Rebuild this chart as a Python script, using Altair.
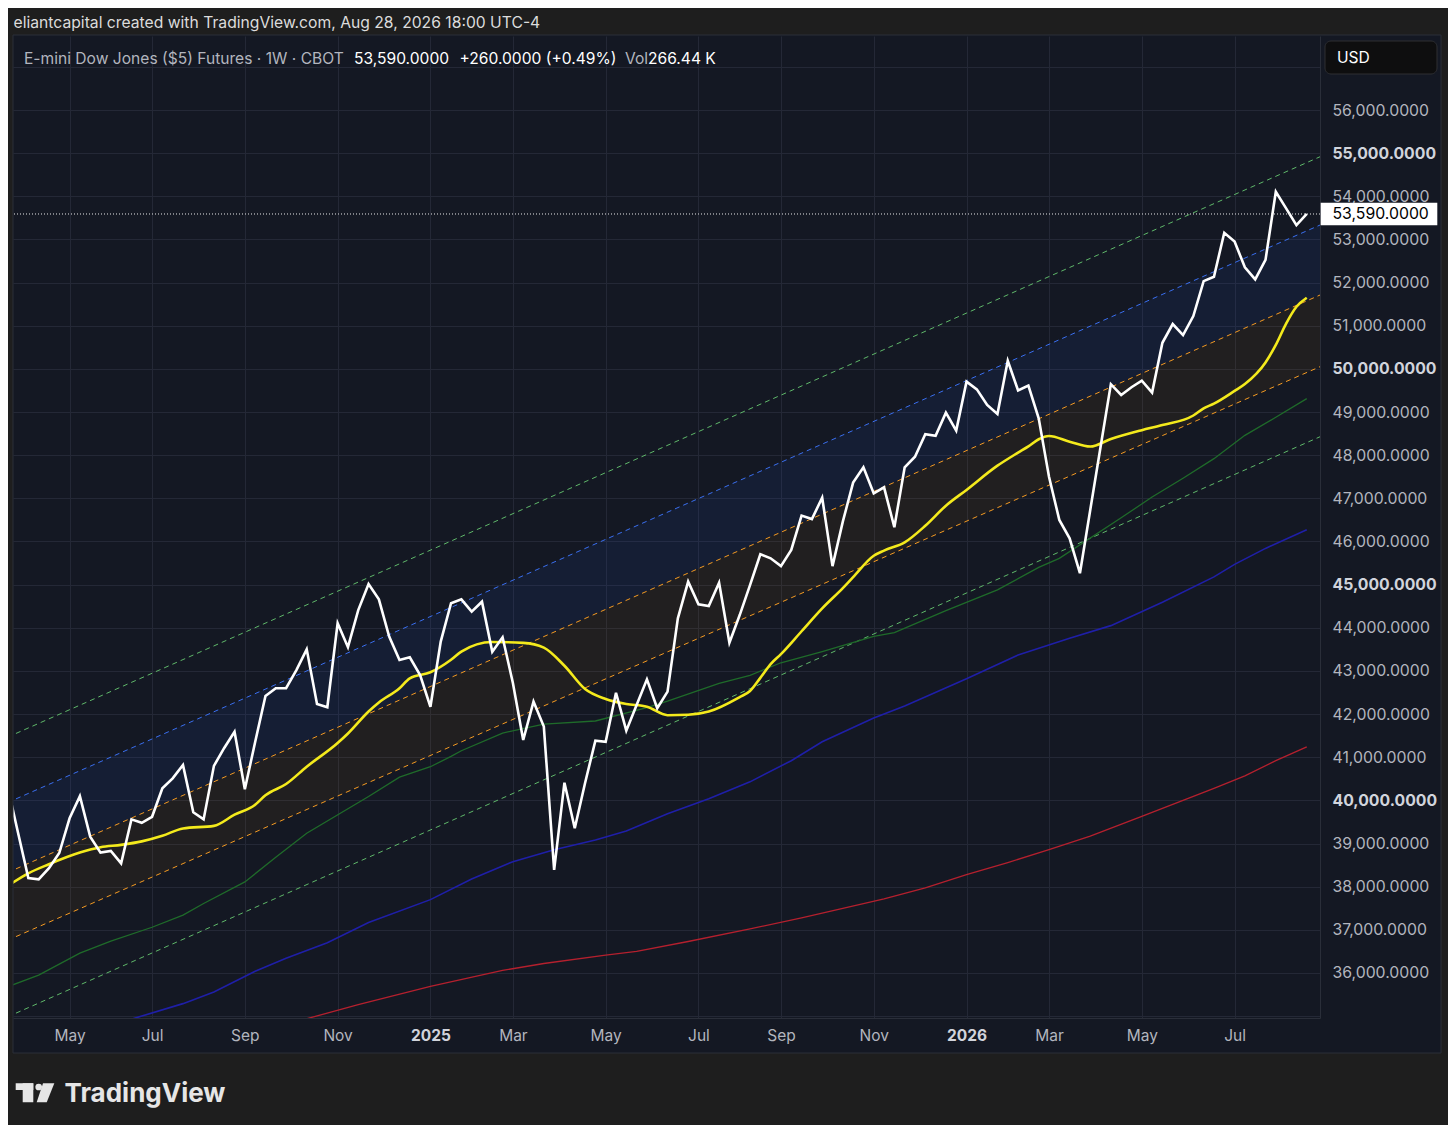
import altair as alt
import pandas as pd

# ---------------- data ----------------
week_dates = pd.date_range("2024-03-25", periods=127, freq="7D")

price = [
    40310, 39250, 38200, 38170, 38430, 38780, 39585, 40100, 39160, 38790,
    38830, 38540, 39560, 39480, 39620, 40280, 40510, 40820, 39725, 39560,
    40800, 41215, 41590, 40260, 41355, 42420, 42600, 42600, 43020, 43500,
    42235, 42160, 44105, 43550, 44410, 45015, 44660, 43795, 43255, 43315,
    42905, 42170, 43680, 44570, 44660, 44375, 44605, 43445, 43780, 42720,
    41400, 42290, 41710, 38390, 40410, 39355, 40405, 41385, 41360, 42495,
    41615, 42210, 42805, 42135, 42520, 44220, 45070, 44545, 44505, 45045,
    43655, 44295, 44990, 45705, 45610, 45430, 45805, 46600, 46520, 47015,
    45430, 46460, 47365, 47720, 47115, 47255, 46330, 47720, 47965, 48485,
    48450, 48985, 48570, 49705, 49525, 49165, 48955, 50190, 49500, 49615,
    48855, 47500, 46500, 46075, 45265, 46730, 48190, 49645, 49395, 49575,
    49725, 49450, 50605, 51040, 50785, 51225, 52035, 52135, 53155, 52950,
    52355, 52075, 52525, 54105, 53720, 53330, 53590,
]

yellow_idx = [0, 2, 4, 7, 9, 11, 13, 15, 17, 20, 22, 24, 25, 27, 29, 32, 33, 35, 36, 38,
              39, 41, 43, 44, 47, 50, 52, 54, 56, 58, 60, 62, 64, 66, 68, 71, 72, 73, 74, 75,
              77, 79, 81, 82, 84, 85, 87, 89, 91, 93, 96, 98, 99, 100, 101, 103, 105, 107, 110, 112,
              115, 116, 117, 119, 120, 122, 123, 124, 125, 126]
yellow_val = [38020, 38310, 38520, 38790, 38915, 38970, 39050, 39180, 39350, 39410,
              39670, 39900, 40120, 40380, 40780, 41330, 41550, 42060, 42270, 42600,
              42830, 42970, 43260, 43450, 43670, 43650, 43540, 43120, 42580, 42350,
              42234, 42170, 41975, 41985, 42060, 42395, 42535, 42840, 43160, 43390,
              43920, 44450, 44920, 45175, 45670, 45790, 45980, 46365, 46830, 47195,
              47757, 48060, 48205, 48370, 48445, 48313, 48200, 48375, 48580, 48700,
              48920, 49087, 49195, 49490, 49650, 50150, 50555, 51050, 51440, 51650]

green_idx = [0, 3, 7, 10, 14, 17, 19, 23, 26, 29, 35, 38, 41, 43, 44, 48, 52, 57, 62, 64,
             69, 72, 75, 79, 84, 86, 91, 96, 100, 102, 108, 111, 114, 117, 120, 123, 126]
green_val = [35680, 35950, 36460, 36740, 37060, 37340, 37610, 38110, 38680, 39240,
             40090, 40540, 40780, 41020, 41150, 41560, 41770, 41840, 42150, 42300,
             42710, 42900, 43190, 43450, 43800, 43890, 44400, 44880, 45400, 45610,
             46550, 47030, 47465, 47920, 48460, 48880, 49310]

navy_idx = [12, 17, 20, 24, 27, 31, 35, 41, 45, 49, 53, 57, 60, 64, 68, 72, 76, 79, 84, 87,
            93, 98, 103, 107, 112, 117, 119, 122, 126]
navy_val = [34930, 35290, 35560, 36040, 36340, 36700, 37170, 37700, 38180, 38580,
            38855, 39080, 39290, 39690, 40040, 40430, 40920, 41360, 41910, 42190,
            42820, 43370, 43760, 44050, 44590, 45180, 45470, 45840, 46270]

red_idx = [29, 34, 41, 48, 52, 58, 61, 66, 72, 77, 85, 89, 93, 97, 101, 105, 110, 114, 117, 120,
           123, 126]
red_val = [34940, 35265, 35690, 36060, 36220, 36415, 36500, 36730, 37020, 37280,
           37720, 37970, 38280, 38560, 38860, 39170, 39630, 40000, 40280, 40570,
           40920, 41240]

# parallel channel (drawing) end points
chan_dates = ["2024-03-25", "2026-09-07"]
chan_green_top = [41467, 54992]
chan_blue = [39951, 53409]
chan_orange_up = [38329, 51787]
chan_orange_lo = [36760, 50125]
chan_green_lo = [34985, 48503]

x_tick_dates = ["2024-05-06", "2024-07-01", "2024-09-02", "2024-11-04", "2025-01-06",
                "2025-03-03", "2025-05-05", "2025-07-07", "2025-09-01", "2025-11-03",
                "2026-01-05", "2026-03-02", "2026-05-04", "2026-07-06"]
y_ticks = [35000, 36000, 37000, 38000, 39000, 40000, 41000, 42000, 43000, 44000, 45000,
           46000, 47000, 48000, 49000, 50000, 51000, 52000, 53000, 54000, 55000, 56000, 57000]

title_text = "eliantcapital created with TradingView.com, Aug 28, 2026 18:00 UTC-4"
symbol_text = "E-mini Dow Jones ($5) Futures · 1W · CBOT"
last_text = "53,590.0000"
change_text = "+260.0000 (+0.49%)"
vol_text = "266.44 K"

# ---------------- frames ----------------
df_price = pd.DataFrame({"date": week_dates, "v": price})


def ma_frame(idx, vals):
    return pd.DataFrame({"date": week_dates[idx], "v": vals})


df_yellow = ma_frame(yellow_idx, yellow_val)
df_green = ma_frame(green_idx, green_val)
df_navy = ma_frame(navy_idx, navy_val)
df_red = ma_frame(red_idx, red_val)
df_chan = pd.DataFrame({
    "date": pd.to_datetime(chan_dates),
    "gt": chan_green_top, "b": chan_blue, "ou": chan_orange_up,
    "ol": chan_orange_lo, "gl": chan_green_lo,
})
df_last = pd.DataFrame({"v": [price[-1]]})
one = pd.DataFrame({"a": [0]})

# ---------------- scales / axes ----------------
FONT = "Inter"
BG = "#141823"
GRID = "#242836"
LINE = "#2a2e39"
AXFS = 15.8

x_vals = [alt.DateTime(year=int(d[:4]), month=int(d[5:7]), date=int(d[8:])) for d in x_tick_dates]
xscale = alt.Scale(domain=["2024-03-28T14:00:00", "2026-09-02T00:00:00"])
xaxis = alt.Axis(
    values=x_vals,
    labelExpr="month(datum.value)==0 ? timeFormat(datum.value,'%Y') : timeFormat(datum.value,'%b')",
    title=None, ticks=False, grid=True, gridColor=GRID, domainColor=LINE,
    labelFontSize=15.5, labelFont=FONT, labelPadding=10,
    labelColor={"condition": {"test": "month(datum.value)==0", "value": "#d1d4dc"}, "value": "#b2b5be"},
    labelFontWeight={"condition": {"test": "month(datum.value)==0", "value": "bold"}, "value": "normal"},
    labelOverlap=False, labelFlush=False,
)
yscale = alt.Scale(domain=[34957, 57715], nice=False, zero=False)
yaxis = alt.Axis(
    orient="right", values=y_ticks,
    labelExpr="datum.value < 35500 || datum.value > 56500 ? '' : format(datum.value, ',.4f')",
    title=None, ticks=False, grid=True, gridColor=GRID, domainColor=LINE,
    labelFontSize=AXFS, labelFont=FONT, labelPadding=12, labelAlign="left",
    labelColor={"condition": {"test": "datum.value % 5000 == 0", "value": "#d1d4dc"}, "value": "#b2b5be"},
    labelFontWeight={"condition": {"test": "datum.value % 5000 == 0", "value": "bold"}, "value": "normal"},
    labelOverlap=False,
)


def X():
    return alt.X("date:T", scale=xscale, axis=xaxis)


def Y(f="v"):
    return alt.Y(f"{f}:Q", scale=yscale, axis=yaxis)


# ---------------- layers ----------------
band_blue = alt.Chart(df_chan).mark_area(color="#2962ff", opacity=0.08, clip=True).encode(
    x=X(), y=Y("b"), y2="ou:Q")
band_orange = alt.Chart(df_chan).mark_area(color="#ff9800", opacity=0.06, clip=True).encode(
    x=X(), y=Y("ou"), y2="ol:Q")


def chan_line(field, color):
    return alt.Chart(df_chan).mark_line(color=color, strokeWidth=1, strokeDash=[5, 4], clip=True).encode(
        x=X(), y=Y(field))


dashed = [
    chan_line("gt", "#5fb86a"),
    chan_line("b", "#3a6ff0"),
    chan_line("ou", "#f59b22"),
    chan_line("ol", "#f59b22"),
    chan_line("gl", "#5fb86a"),
]

red_line = alt.Chart(df_red).mark_line(color="#b5202e", strokeWidth=1.3, clip=True).encode(x=X(), y=Y())
navy_line = alt.Chart(df_navy).mark_line(color="#1f1fa8", strokeWidth=1.6, clip=True).encode(x=X(), y=Y())
green_line = alt.Chart(df_green).mark_line(color="#1f6b2a", strokeWidth=1.3, clip=True).encode(x=X(), y=Y())
yellow_line = alt.Chart(df_yellow).mark_line(color="#f4ea1c", strokeWidth=2.6, clip=True,
                                             interpolate="monotone").encode(x=X(), y=Y())
price_line = alt.Chart(df_price).mark_line(color="#ffffff", strokeWidth=2.6, clip=True).encode(x=X(), y=Y())

last_rule = alt.Chart(df_last).mark_rule(color="#e8e8e8", strokeWidth=1, strokeDash=[1, 2]).encode(y=Y())

# ---- frame around the panel (outside the plot) ----
OUT = "#1e1e1e"


def box(x1, x2, y1, y2, fill, **kw):
    return alt.Chart(one).mark_rect(color=fill, **kw).encode(
        x=alt.value(x1), x2=alt.value(x2), y=alt.value(y1), y2=alt.value(y2))


frame = [
    box(-5, 1435, -28, -1, OUT),
    box(-5, 0, -1, 1017, OUT),
    box(1428, 1435, -1, 1017, OUT),
    box(-5, 1435, 1017, 1089, OUT),
]
panel_border = alt.Chart(one).mark_rect(fill=None, stroke="#2a2e39", strokeWidth=1).encode(
    x=alt.value(0), x2=alt.value(1428), y=alt.value(-1), y2=alt.value(1017))


def txt(s, x, y, size=15.6, color="#b2b5be", weight="normal", align="left"):
    return alt.Chart(one).mark_text(fontSize=size, color=color, fontWeight=weight, align=align,
                                    baseline="middle", font=FONT).encode(
        x=alt.value(x), y=alt.value(y), text=alt.value(s))


texts = [
    txt(title_text, 0.5, -13, size=15.7, color="#dcdcdc"),
    txt(symbol_text, 11, 23, color="#b2b5be"),
    txt(last_text, 341, 23, color="#ffffff"),
    txt(change_text, 446.5, 23, color="#ffffff"),
    txt("Vol", 612, 23, color="#b2b5be"),
    txt(vol_text, 635, 23, color="#ffffff"),
]

usd_box = alt.Chart(one).mark_rect(color="#0e0e0f", stroke="#2e2f33", strokeWidth=1, cornerRadius=6).encode(
    x=alt.value(1312), x2=alt.value(1424), y=alt.value(5), y2=alt.value(38))
usd_text = txt("USD", 1324, 22, size=15.6, color="#ffffff")

price_box = alt.Chart(df_last).mark_point(
    shape="M -1 -0.192 L 1 -0.192 L 1 0.192 L -1 0.192 Z", filled=True, size=13596,
    color="#ffffff", opacity=1, strokeWidth=0).encode(x=alt.value(1366), y=Y())
price_label = alt.Chart(df_last).mark_text(fontSize=AXFS, color="#000000", align="left", baseline="middle",
                                           font=FONT).encode(
    x=alt.value(1319.5), y=Y(), text=alt.value(last_text))

# ---- TradingView logo ----
LOGO = "#e6e6e6"
logo = [
    box(2.7, 20.3, 1047.3, 1054, LOGO),
    box(9.7, 20.3, 1047.3, 1066.3, LOGO),
    alt.Chart(one).mark_circle(color=LOGO, size=45, opacity=1).encode(x=alt.value(25.7), y=alt.value(1051)),
    alt.Chart(one).mark_point(shape="M -0.26 -1 L 0.93 -1 L 0.13 1 L -0.93 1 Z", filled=True, size=361,
                              color=LOGO, opacity=1, strokeWidth=0).encode(
        x=alt.value(32.5), y=alt.value(1056.8)),
    alt.Chart(one).mark_text(fontSize=26, fontWeight="bold", color=LOGO, align="left",
                             baseline="alphabetic", font=FONT).encode(
        x=alt.value(51.5), y=alt.value(1065.7), text=alt.value("TradingView")),
]

chart = alt.layer(
    band_blue, band_orange, *dashed, red_line, navy_line, green_line, yellow_line, price_line,
    last_rule, *frame, panel_border, *texts, usd_box, usd_text, price_box, price_label, *logo,
).properties(
    width=1307, height=982,
    autosize=alt.AutoSizeParams(type="none"),
    padding={"left": 5, "top": 28, "right": 128, "bottom": 107},
    background=BG,
).configure_view(stroke=None)

chart.save("out.html", embed_options={"renderer": "svg", "actions": False})
